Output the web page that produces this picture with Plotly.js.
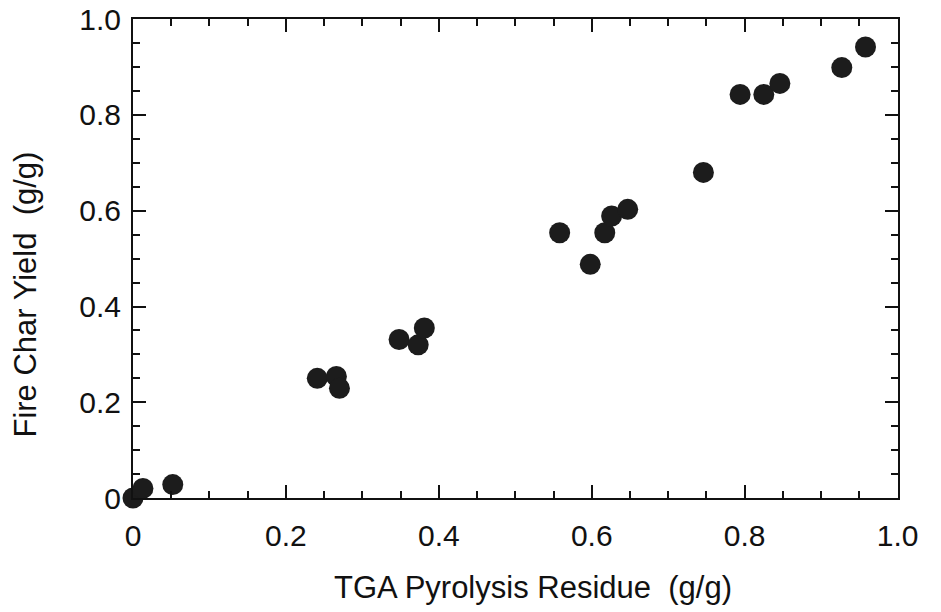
<!DOCTYPE html>
<html>
<head>
<meta charset="utf-8">
<script src="https://cdn.plot.ly/plotly-3.0.1.min.js"></script>
<style>html,body{margin:0;padding:0;background:#fff;}#chart{width:941px;height:612px;}</style>
</head>
<body>
<div id="chart"></div>
<script>
const tgaResidue = [0.0, 0.013, 0.052, 0.241, 0.266, 0.270, 0.348, 0.373, 0.381, 0.558, 0.598, 0.617, 0.626, 0.647, 0.746, 0.794, 0.825, 0.846, 0.927, 0.958];
const fireCharYield = [0.0, 0.02, 0.028, 0.25, 0.254, 0.229, 0.331, 0.320, 0.355, 0.554, 0.488, 0.554, 0.589, 0.603, 0.680, 0.843, 0.843, 0.866, 0.899, 0.942];
const xTickVals = [0, 0.2, 0.4, 0.6, 0.8, 1.0];
const xTickText = ["0", "0.2", "0.4", "0.6", "0.8", "1.0"];
const yTickVals = [0, 0.2, 0.4, 0.6, 0.8, 1.0];
const yTickText = ["0", "0.2", "0.4", "0.6", "0.8", "1.0"];
const xTitle = "TGA Pyrolysis Residue  (g/g)";
const yTitle = "Fire Char Yield  (g/g)";

const font = "Liberation Sans, Arial, Helvetica, sans-serif";
const axisCommon = {
  showgrid: false,
  zeroline: false,
  showline: true,
  linecolor: "#111",
  linewidth: 2,
  mirror: "ticks",
  ticks: "inside",
  ticklen: 13,
  tickwidth: 2,
  tickcolor: "#111",
  tickmode: "array",
  ticklabeloverflow: "allow",
  tickfont: {family: font, size: 30, color: "#111"},
  minor: {dtick: 0.05, ticks: "inside", ticklen: 7, tickwidth: 2, tickcolor: "#111", showgrid: false}
};

const data = [{
  type: "scatter",
  mode: "markers",
  x: tgaResidue,
  y: fireCharYield,
  cliponaxis: false,
  marker: {size: 21, color: "#1c1c1c", line: {width: 0}}
}];

const layout = {
  width: 941,
  height: 612,
  margin: {l: 133, r: 43, t: 19, b: 114},
  paper_bgcolor: "#fff",
  plot_bgcolor: "#fff",
  showlegend: false,
  font: {family: font, color: "#111"},
  xaxis: Object.assign({}, axisCommon, {
    range: [0, 1.0005],
    tickvals: xTickVals,
    ticktext: xTickText,
    ticklabelstandoff: 10
  }),
  yaxis: Object.assign({}, axisCommon, {
    range: [0, 1.0005],
    tickvals: yTickVals,
    ticktext: yTickText,
    ticklabelstandoff: 4
  }),
  annotations: [
    {text: xTitle, xref: "paper", yref: "paper", x: 0.523, y: -0.186, xanchor: "center", yanchor: "middle",
     showarrow: false, font: {family: font, size: 31, color: "#111"}},
    {text: yTitle, xref: "paper", yref: "paper", x: -0.141, y: 0.425, xanchor: "center", yanchor: "middle",
     textangle: -90, showarrow: false, font: {family: font, size: 31, color: "#111"}}
  ]
};

Plotly.newPlot("chart", data, layout, {displayModeBar: false, staticPlot: true});
</script>
</body>
</html>
